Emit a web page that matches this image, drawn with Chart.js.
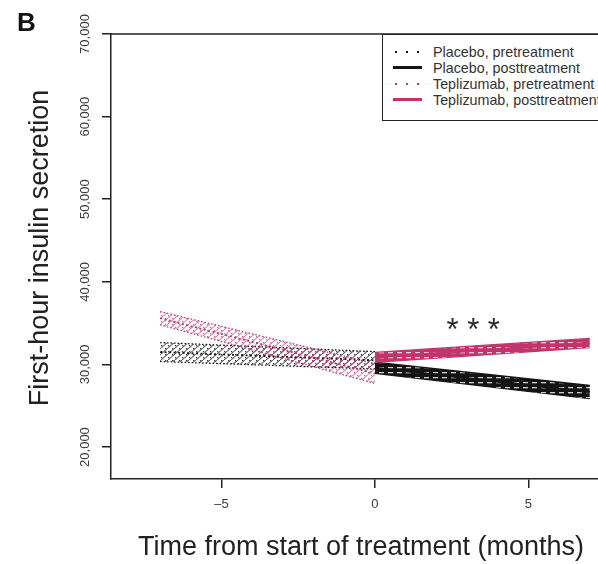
<!DOCTYPE html>
<html>
<head>
<meta charset="utf-8">
<script src="https://cdn.jsdelivr.net/npm/chart.js@4/dist/chart.umd.min.js"></script>
<style>
  body { margin: 0; overflow: hidden; background: #fff; font-family: "Liberation Sans", Arial, sans-serif; }
  #wrap { position: relative; width: 620px; height: 564px; }
  #panel { position: absolute; left: 17px; top: 9px; font: bold 26px/26px "Liberation Sans", Arial, sans-serif; color: #111; }
  #legend { position: absolute; left: 382px; top: 34px; width: 236px; border: 1.5px solid #222; background: #fff;
            padding: 8.5px 0 12px 0; }
  .row { height: 16px; display: flex; align-items: center; font-size: 14.3px; color: #333; white-space: nowrap; }
  .sample { width: 29px; margin-left: 10px; margin-right: 11px; }
</style>
</head>
<body>
<div id="wrap">
  <canvas id="chart" width="620" height="564"></canvas>
  <div id="panel">B</div>
  <div id="legend"></div>
</div>
<script>
// values (months, insulin secretion)
const xPre = [-7, 0];
const xPost = [0, 7];
const placeboPreMid = [31500, 30500];
const placeboPreHigh = [32650, 31550];
const placeboPreLow = [30350, 29450];
const placeboPostMid = [29600, 26650];
const placeboPostHigh = [30270, 27450];
const placeboPostLow = [28930, 25850];
const teplizumabPreMid = [35600, 28900];
const teplizumabPreHigh = [36400, 30100];
const teplizumabPreLow = [34800, 27700];
const teplizumabPostMid = [30850, 32600];
const teplizumabPostHigh = [31450, 33150];
const teplizumabPostLow = [30250, 32050];

const seriesNames = ['Placebo, pretreatment', 'Placebo, posttreatment',
                     'Teplizumab, pretreatment', 'Teplizumab, posttreatment'];
const yTickValues = [20000, 30000, 40000, 50000, 60000, 70000];
const yTickLabels = ['20,000', '30,000', '40,000', '50,000', '60,000', '70,000'];
const xTickValues = [-5, 0, 5];
const xTickLabels = ['\u20135', '0', '5'];
const starText = '* * *';
const starAt = { x: 3.2, y: 33000 };

const BLACK = '#141414';
const PINK = '#c0366b';

function pts(xs, ys) {
    return xs.map((x, i) => ({ x: x, y: ys[i] }));
}

// hatch patterns for the confidence bands
function prePattern(color, alpha) {
    const c = document.createElement('canvas');
    c.width = 7; c.height = 6;
    const g = c.getContext('2d');
    g.globalAlpha = alpha;
    g.strokeStyle = color;
    g.lineWidth = 1;
    g.beginPath();
    g.moveTo(-1, 7); g.lineTo(8, -1);
    g.stroke();
    g.fillStyle = color;
    g.fillRect(0, 3, 1.3, 1.3);
    g.fillRect(4, 0, 1.3, 1.3);
    return g.createPattern(c, 'repeat');
}

function postPattern(color) {
    const c = document.createElement('canvas');
    c.width = 9; c.height = 5;
    const g = c.getContext('2d');
    g.fillStyle = color;
    g.fillRect(0, 0, 9, 5);
    g.fillStyle = 'rgba(255,255,255,0.8)';
    g.fillRect(1, 2, 5, 1.3);
    return g.createPattern(c, 'repeat');
}

const series = [
    { xs: xPre, mid: placeboPreMid, hi: placeboPreHigh, lo: placeboPreLow, color: BLACK, dotted: true, fill: prePattern(BLACK, 0.85) },
    { xs: xPost, mid: placeboPostMid, hi: placeboPostHigh, lo: placeboPostLow, color: BLACK, dotted: false, fill: postPattern(BLACK) },
    { xs: xPre, mid: teplizumabPreMid, hi: teplizumabPreHigh, lo: teplizumabPreLow, color: PINK, dotted: true, fill: prePattern(PINK, 0.75) },
    { xs: xPost, mid: teplizumabPostMid, hi: teplizumabPostHigh, lo: teplizumabPostLow, color: PINK, dotted: false, fill: postPattern(PINK) }
];

const datasets = [];
series.forEach((s, k) => {
    const dash = s.dotted ? [1.5, 2] : [];
    datasets.push({ label: seriesNames[k] + ' lower', data: pts(s.xs, s.lo), borderColor: s.color,
        borderWidth: 1.3, borderDash: dash, pointRadius: 0, fill: false });
    datasets.push({ label: seriesNames[k] + ' upper', data: pts(s.xs, s.hi), borderColor: s.color,
        borderWidth: 1.3, borderDash: dash, pointRadius: 0, fill: '-1', backgroundColor: s.fill });
    datasets.push({ label: seriesNames[k], data: pts(s.xs, s.mid), borderColor: s.color,
        borderWidth: s.dotted ? 1.8 : 2.2, borderDash: s.dotted ? [2, 2.5] : [], pointRadius: 0, fill: false });
});
// draw in dataset order (first one at the bottom)
datasets.forEach((d, i) => { d.order = datasets.length - i; });

const overlay = {
    id: 'overlay',
    afterDraw(chart) {
        const { ctx, chartArea: a, scales: { x, y } } = chart;
        ctx.save();
        // box: top and right sides
        ctx.strokeStyle = '#222';
        ctx.lineWidth = 1.5;
        ctx.beginPath();
        ctx.moveTo(a.left, a.top);
        ctx.lineTo(a.right, a.top);
        ctx.lineTo(a.right, a.bottom);
        ctx.stroke();

        // rotated y tick labels
        ctx.fillStyle = '#3a3a3a';
        ctx.font = '13px "Liberation Sans", Arial, sans-serif';
        ctx.textAlign = 'center';
        ctx.textBaseline = 'middle';
        yTickValues.forEach((v, i) => {
            ctx.save();
            ctx.translate(a.left - 25.5, y.getPixelForValue(v));
            ctx.rotate(-Math.PI / 2);
            ctx.fillText(yTickLabels[i], 0, 0);
            ctx.restore();
        });

        // y axis title
        ctx.save();
        ctx.fillStyle = '#222';
        ctx.font = '27px "Liberation Sans", Arial, sans-serif';
        ctx.translate(41, 248);
        ctx.rotate(-Math.PI / 2);
        ctx.fillText('First-hour insulin secretion', 0, 0);
        ctx.restore();

        // significance stars
        ctx.fillStyle = '#2a2a2a';
        ctx.font = '31px "Liberation Sans", Arial, sans-serif';
        ctx.textBaseline = 'alphabetic';
        ctx.fillText(starText, x.getPixelForValue(starAt.x), y.getPixelForValue(starAt.y));
        ctx.restore();
    }
};

new Chart(document.getElementById('chart'), {
    type: 'line',
    data: { datasets: datasets },
    options: {
        responsive: false,
        animation: false,
        layout: { padding: { top: 34, right: 9, left: 0, bottom: 0 } },
        plugins: { legend: { display: false }, tooltip: { enabled: false } },
        scales: {
            x: {
                type: 'linear',
                min: -8.6,
                max: 7.69,
                afterBuildTicks: (scale) => { scale.ticks = xTickValues.map(v => ({ value: v })); },
                afterFit: (scale) => { scale.height = 85; },
                grid: { display: true, drawOnChartArea: false, drawTicks: true, tickLength: 9, color: '#222', lineWidth: 1.5 },
                border: { display: true, color: '#222', width: 1.5 },
                ticks: {
                    padding: 9,
                    color: '#3a3a3a',
                    font: { family: '"Liberation Sans", Arial, sans-serif', size: 13 },
                    maxRotation: 0,
                    callback: (v) => xTickLabels[xTickValues.indexOf(v)]
                },
                title: {
                    display: true,
                    text: 'Time from start of treatment (months)',
                    color: '#222',
                    font: { family: '"Liberation Sans", Arial, sans-serif', size: 27 },
                    padding: { top: 0, bottom: 0 }
                }
            },
            y: {
                min: 16130,
                max: 70000,
                afterBuildTicks: (scale) => { scale.ticks = yTickValues.map(v => ({ value: v })); },
                afterFit: (scale) => { scale.width = 111; },
                grid: { display: true, drawOnChartArea: false, drawTicks: true, tickLength: 9, color: '#222', lineWidth: 1.5 },
                border: { display: true, color: '#222', width: 1.5 },
                ticks: { display: false }
            }
        }
    },
    plugins: [overlay]
});

// legend box inside the plot, as in the figure
const legend = document.getElementById('legend');
series.forEach((s, k) => {
    const row = document.createElement('div');
    row.className = 'row';
    const sample = document.createElement('span');
    sample.className = 'sample';
    if (s.dotted) {
        sample.style.height = '2px';
        sample.style.backgroundImage = `repeating-linear-gradient(to right, ${s.color} 0 2px, transparent 2px 11px)`;
        sample.style.backgroundPosition = '2px 0';
    } else {
        sample.style.height = '2.5px';
        sample.style.background = s.color;
    }
    const text = document.createElement('span');
    text.textContent = seriesNames[k];
    row.appendChild(sample);
    row.appendChild(text);
    legend.appendChild(row);
});
</script>
</body>
</html>
